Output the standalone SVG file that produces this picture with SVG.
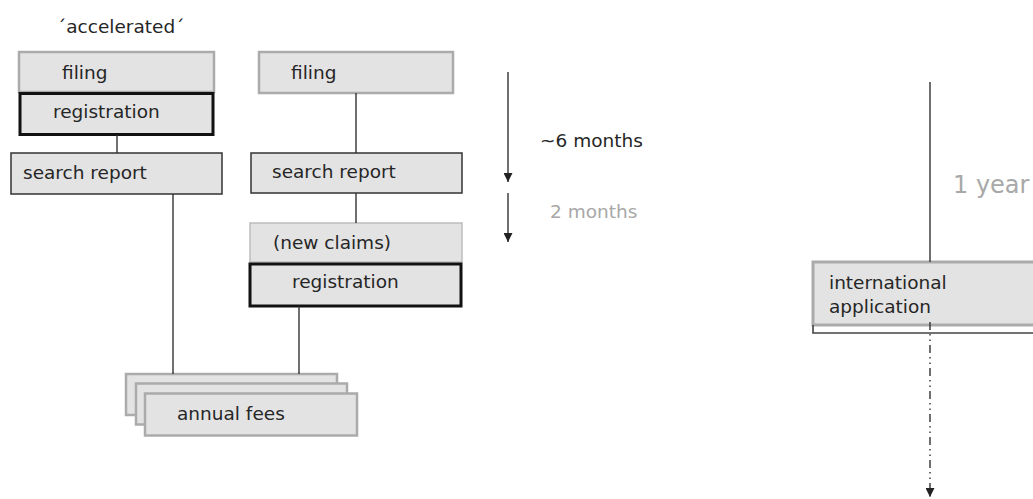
<svg xmlns="http://www.w3.org/2000/svg" width="1033" height="499" viewBox="0 0 1033 499">
  <defs>
    <style>
      text { font-family: "DejaVu Sans", Verdana, sans-serif; font-size: 18.5px; fill: #262626; }
      .box { fill: #e3e3e3; }
      .soft { stroke: #ababab; stroke-width: 2.5; }
      .thin { stroke: #bdbdbd; stroke-width: 1.5; }
      .dark { stroke: #333; stroke-width: 1.5; }
      .bold { stroke: #111; stroke-width: 3; }
      .link { stroke: #333; stroke-width: 1.4; fill: none; }
      .muted { fill: #a8a8a8; }
      .big { font-size: 24px; }
    </style>
    <marker id="head" viewBox="0 0 10 10" refX="10" refY="5" markerWidth="9" markerHeight="9" markerUnits="userSpaceOnUse" orient="auto">
      <path d="M0,0 L10,5 L0,10 z" fill="#222"/>
    </marker>
  </defs>

  <text id="label-accelerated" x="57" y="33">´accelerated´</text>

  <!-- accelerated route -->
  <g id="filing-a">
    <rect class="box soft" x="19" y="52" width="195" height="40"/>
    <text x="62" y="79">filing</text>
  </g>
  <g id="registration-a">
    <rect class="box bold" x="20" y="93.5" width="193" height="41"/>
    <text x="53" y="118">registration</text>
  </g>
  <g id="search-a">
    <rect class="box dark" x="11" y="153" width="211" height="41"/>
    <text x="23" y="179">search report</text>
  </g>

  <!-- normal route -->
  <g id="filing-b">
    <rect class="box soft" x="259" y="52" width="194" height="41"/>
    <text x="291" y="79">filing</text>
  </g>
  <g id="search-b">
    <rect class="box dark" x="251" y="153" width="211" height="40"/>
    <text x="272" y="178">search report</text>
  </g>
  <g id="new-claims">
    <rect class="box thin" x="250" y="223" width="212" height="39"/>
    <text x="273" y="249">(new claims)</text>
  </g>
  <g id="registration-b">
    <rect class="box bold" x="250" y="264" width="211" height="42"/>
    <text x="292" y="288">registration</text>
  </g>

  <!-- stacked fee cards -->
  <g id="annual-fees">
    <rect class="box soft" x="126" y="374" width="211" height="41"/>
    <rect class="box soft" x="136" y="383.5" width="211" height="41"/>
    <rect class="box soft" x="145" y="393.5" width="212" height="42"/>
    <text x="177" y="420">annual fees</text>
  </g>

  <!-- international filing -->
  <g id="international">
    <rect class="box" x="813" y="262" width="230" height="63" stroke="#ababab" stroke-width="3"/>
    <path d="M813,325 V333 H1040" fill="none" stroke="#444" stroke-width="1.6"/>
    <text x="829" y="289">international</text>
    <text x="829" y="313">application</text>
  </g>

  <!-- time spans -->
  <g id="durations">
    <text x="540" y="147">~6 months</text>
    <text class="muted" x="550" y="218">2 months</text>
    <text class="muted big" x="953" y="193">1 year</text>
  </g>

  <g id="connectors">
    <line class="link" x1="117" y1="135" x2="117" y2="153"/>
    <line class="link" x1="173" y1="194" x2="173" y2="374"/>
    <line class="link" x1="356" y1="93" x2="356" y2="153"/>
    <line class="link" x1="356" y1="193" x2="356" y2="223"/>
    <line class="link" x1="299" y1="306" x2="299" y2="374"/>
    <line class="link" x1="508" y1="72" x2="508" y2="182" marker-end="url(#head)"/>
    <line class="link" x1="508" y1="193" x2="508" y2="242" marker-end="url(#head)"/>
    <line class="link" x1="930" y1="82" x2="930" y2="262"/>
    <line class="link" x1="930" y1="322" x2="930" y2="497" stroke-dasharray="8 4 1.5 4 1.5 4" marker-end="url(#head)"/>
  </g>
</svg>
